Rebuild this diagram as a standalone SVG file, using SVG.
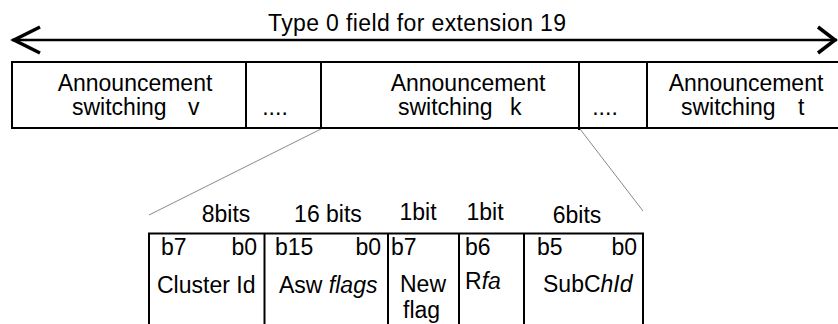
<svg xmlns="http://www.w3.org/2000/svg" width="838" height="324" viewBox="0 0 838 324">
<style>
text{font-family:"Liberation Sans",Arial,sans-serif;font-size:23px;fill:#000}
.m{text-anchor:middle}
.e{text-anchor:end}
.box{stroke:#000;stroke-width:2;fill:none}
.thin{stroke:#888;stroke-width:1;fill:none}
.i{font-style:italic}
</style>
<rect width="838" height="324" fill="#fff"/>
<g id="connectors">
<line x1="12" y1="40" x2="837" y2="40" stroke="#000" stroke-width="2.5"/>
<polyline points="40,27 14,40 40,53" fill="none" stroke="#000" stroke-width="3.5" stroke-linejoin="miter"/>
<polyline points="818,27 835,40 818,53" fill="none" stroke="#000" stroke-width="3.5" stroke-linejoin="miter"/>
<line class="thin" x1="321" y1="129" x2="149" y2="215"/>
<line class="thin" x1="580" y1="129" x2="643" y2="211"/>
</g>
<g id="title"><text class="m" x="417" y="31" textLength="298">Type 0 field for extension 19</text></g>
<g id="top-frame">
<path class="box" d="M838,62 H12 V128 H838"/>
</g>
<g id="asw-v">
<line class="box" x1="246" y1="62" x2="246" y2="128"/>
<text class="m" x="135" y="90.5">Announcement</text>
<text x="72" y="115">switching</text><text x="188" y="115">v</text>
</g>
<g id="dots-1"><text class="m" x="275" y="115">....</text></g>
<g id="asw-k">
<line class="box" x1="321" y1="62" x2="321" y2="128"/>
<line class="box" x1="579" y1="62" x2="579" y2="130"/>
<text class="m" x="468" y="90.5">Announcement</text>
<text x="398" y="115">switching</text><text x="510" y="115">k</text>
</g>
<g id="dots-2"><text class="m" x="605" y="115">....</text></g>
<g id="asw-t">
<line class="box" x1="647" y1="62" x2="647" y2="128"/>
<text class="m" x="746" y="90.5">Announcement</text>
<text x="681" y="115">switching</text><text x="798" y="115">t</text>
</g>
<g id="table">
<path class="box" d="M149,324 V233.5 H643 V324"/>
<line class="box" x1="264.5" y1="233.5" x2="264.5" y2="324"/>
<line class="box" x1="388" y1="233.5" x2="388" y2="324"/>
<line class="box" x1="459" y1="233.5" x2="459" y2="324"/>
<line class="box" x1="524" y1="233.5" x2="524" y2="324"/>
</g>
<g id="cluster-id">
<text class="m" x="226" y="222">8bits</text>
<text x="161" y="255">b7</text><text class="e" x="257" y="255">b0</text>
<text x="157" y="293">Cluster Id</text>
</g>
<g id="asw-flags">
<text class="m" x="328" y="222">16 bits</text>
<text x="275" y="255">b15</text><text class="e" x="381" y="255">b0</text>
<text x="279" y="293">Asw <tspan class="i">flags</tspan></text>
</g>
<g id="new-flag">
<text class="m" x="418" y="220">1bit</text>
<text x="391" y="255">b7</text>
<text x="400" y="292">New</text>
<text x="403" y="318">flag</text>
</g>
<g id="rfa">
<text class="m" x="485" y="220">1bit</text>
<text x="465" y="255">b6</text>
<text x="465" y="289">R<tspan class="i">fa</tspan></text>
</g>
<g id="subchid">
<text class="m" x="577" y="223">6bits</text>
<text x="537" y="255">b5</text><text class="e" x="637" y="255">b0</text>
<text x="543" y="292">SubC<tspan class="i">hId</tspan></text>
</g>
</svg>
